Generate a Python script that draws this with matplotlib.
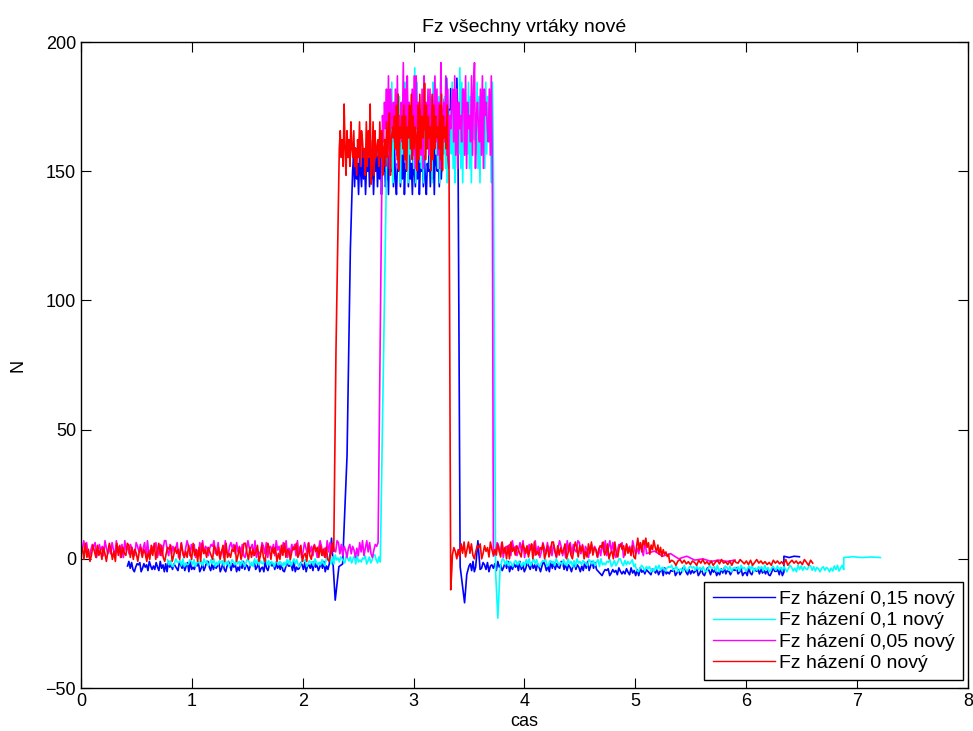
import numpy as np
import matplotlib
matplotlib.use("Agg")
import matplotlib.pyplot as plt

plt.rcParams['font.family'] = ['Liberation Sans', 'DejaVu Sans']

TITLE = "Fz všechny vrtáky nové"
LABELS = ["Fz házení 0,15 nový", "Fz házení 0,1 nový",
          "Fz házení 0,05 nový", "Fz házení 0 nový"]
COLORS = ["#0000ff", "#00ffff", "#ff00ff", "#ff0000"]
XTICKS = [0, 1, 2, 3, 4, 5, 6, 7, 8]
YTICKS = [-50, 0, 50, 100, 150, 200]

# Each segment is (t_start, t_end, samples). Samples are either a plain list
# of N values, or (band_low, band_high, digit string): the noise read off the
# picture, each digit placing one sample inside the band (0 = low, 9 = high).
blue_segments = [
    (0.42, 2.24, (-5, -1, "59382047680374619525284193607094627531863715809242658037149941726358038205961747041839265157692480340931685728362710495571904238628056371946148390527")),
    (2.26, 2.36, [8, -16, -3, -2]),
    (2.40, 2.43, [40, 120]),
    (2.45, 3.25, (138, 165, "462735164273615472836154726371546237185462731546273815462735164273815472631547263718546273")),
    (3.27, 3.40, (150, 186, "572946385736294")),
    (3.42, 3.48, [-3, -10, -17, -6]),
    (3.50, 3.56, (-5, -1, "571904")),
    (3.58, 3.58, [7]),
    (3.60, 4.65, (-5, -1, "23862805637194614839052747192603852836174059615093827439827164057264051839159382")),
    (4.70, 6.34, (-6.5, -3.5, "047680374619525284193607094627531863715809242658037149941726358038205961747041839265157692480340931685728362710495571904")),
    (6.34, 6.48, [1, 0.5, 1, 0.8]),
]

cyan_segments = [
    (0.78, 2.20, (-3, 0, "82710495571904238628056371946148390527471926038528361740596150938274398271640572640518391593820476803746195252841")),
    (2.22, 2.70, (-2, 1.5, "9360709462753186371580924265803714994172")),
    (2.73, 2.73, [80]),
    (2.76, 3.72, (140, 190, "4637281546372715364827153647291836452718364572718463527184637271546382715463928174653827176453827164572837465182")),
    (3.74, 3.78, [-5, -23, -4]),
    (3.80, 5.00, (-3, 0, "982716405726405183915938204768037461952528419360709462753186371580924265803714994172635803")),
    (5.00, 6.88, (-5, -2.5, "8205961747041839265157692480340931685728362710495571904238628056371946148390527471926038528361740596150938274398271640572640518391593")),
    (6.88, 7.21, [0.5, 0.8, 0.5, 0.7, 0.5]),
]

magenta_segments = [
    (0.00, 2.68, (0.5, 7, "1593820476803746195252841936070946275318637158092426580371499417263580382059617470418392651576924803409316857283627104955719042386280563719461483905274719260385283617405961509382743982716405726405183915938204768")),
    (2.70, 2.70, [90]),
    (2.72, 3.71, (146, 192, "5364728175463728154639271846537281846352718463727154683726194563827154673827164537728164538279156437281756437281")),
    (3.72, 3.72, [1]),
    (3.74, 5.10, (0.5, 7, "3862805637194614839052747192603852836174059615093827439827164057264051839159382047680374619525284193")),
    (5.10, 5.90, [2, 3, 1, 2, 0, 1, -0.5, 0, -1, -0.5, -1, -0.5]),
]

red_segments = [
    (0.00, 2.28, (-1, 6, "47192603852836174059615093827439827164057264051839159382047680374619525284193607094627531863715809242658037149941726358038205961747041839265157692480340931685728362710495")),
    (2.30, 2.30, [80]),
    (2.33, 2.80, (145, 176, "4635294163527436241537265341726390271634527361452736815")),
    (2.81, 3.32, (146, 184, "5463728154637261547382635417283645927364518273645372816453721")),
    (3.335, 3.345, [-12, -4]),
    (3.35, 5.00, (0, 6.5, "264051839159382047680374619525284193607094627531863715809242658037149941726358038205961747041839265157692480340931685728362710")),
    (5.01, 5.30, (0, 8, "5947386957264853625142312")),
    (5.31, 6.60, (-2.5, 0, "4750683725164073825160472835160743852617048362514073625180473625184073")),
]


def build(segments):
    t, v = [], []
    for t0, t1, samples in segments:
        if isinstance(samples, tuple):
            lo, hi, digits = samples
            samples = [lo + (hi - lo) * int(d) / 9 for d in digits]
        t.extend(np.linspace(t0, t1, len(samples)))
        v.extend(samples)
    return np.array(t), np.array(v)


fig = plt.figure(figsize=(9.73, 7.31), dpi=100)
ax = fig.add_axes([0.0832, 0.0588, 0.9116, 0.8837])

for segs, color, label in zip([blue_segments, cyan_segments, magenta_segments, red_segments], COLORS, LABELS):
    t, v = build(segs)
    ax.plot(t, v, color=color, lw=1.2, label=label)

ax.set_xlim(0, 8)
ax.set_ylim(-50, 200)
ax.set_xticks(XTICKS)
ax.set_yticks(YTICKS)
ax.tick_params(direction='in', top=True, right=True, length=7, labelsize=13)
for s in ax.spines.values():
    s.set_linewidth(1.0)

ax.set_title(TITLE, fontsize=14, pad=7)
ax.set_xlabel("cas", fontsize=13, labelpad=2)
ax.set_ylabel("N", fontsize=13, labelpad=14)

leg = ax.legend(loc='lower right', bbox_to_anchor=(0.994, 0.012), borderaxespad=0,
                fancybox=False, edgecolor='black', framealpha=1, handlelength=3.2,
                handletextpad=0.2, labelspacing=0.19, borderpad=0.42,
                prop={'size': 14})
leg.get_frame().set_linewidth(1.0)
for line in leg.get_lines():
    line.set_linewidth(1.0)

fig.savefig("out.png", dpi=100)
